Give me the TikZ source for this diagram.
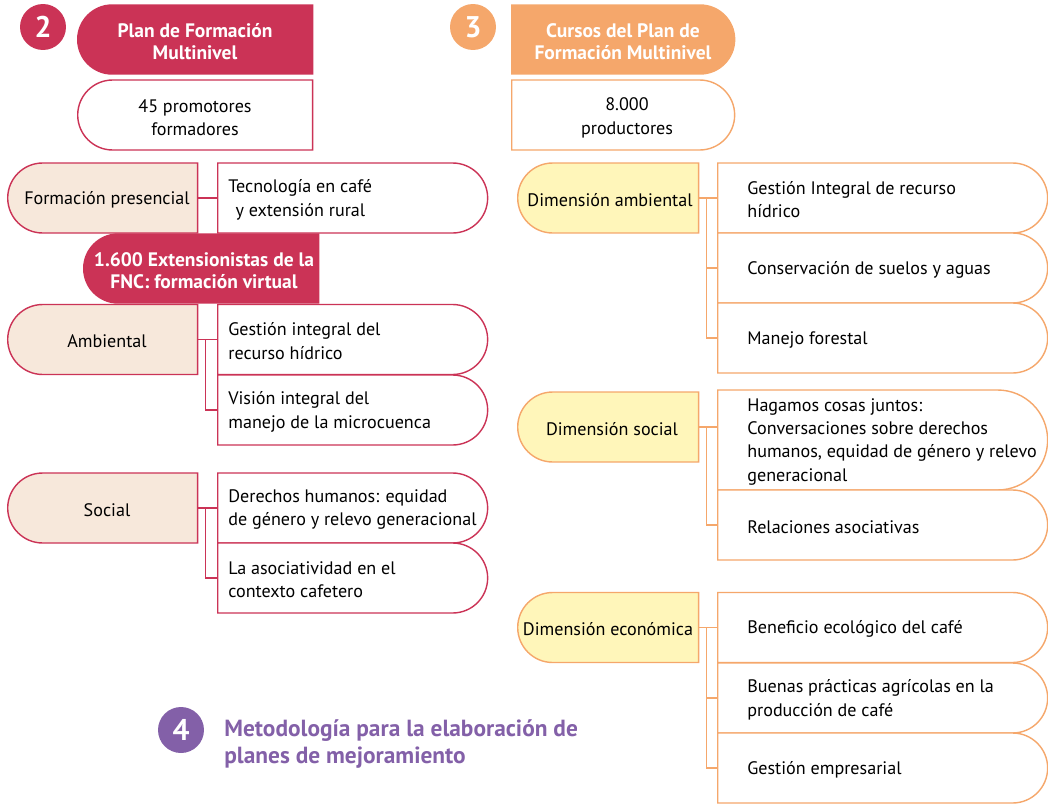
\documentclass[tikz,border=0pt]{standalone}
\usepackage{fontspec}
\setmainfont{PT Sans}
\usetikzlibrary{shapes.misc}

\definecolor{carmin}{HTML}{CB3356}
\definecolor{naranja}{HTML}{F5A76B}
\definecolor{beige}{HTML}{F7E8DB}
\definecolor{amarillo}{HTML}{FFF6BA}
\definecolor{morado}{HTML}{8360A8}

\tikzset{
  caja/.style={rounded rectangle, draw, line width=0.8pt, minimum height=1.4cm, inner sep=0pt, anchor=west},
  cajaizq/.style={caja, rounded rectangle east arc=none},
  cajader/.style={caja, rounded rectangle west arc=none},
  texto/.style={anchor=west, align=left, inner sep=0pt, yshift=-0.035cm, font=\fontsize{10.3}{13.3}\selectfont},
  titulo/.style={align=center, inner sep=0pt, yshift=-0.03cm, text=white, font=\fontsize{11.1}{12.4}\selectfont\bfseries},
  numero/.style={circle, minimum size=0.92cm, inner sep=0pt, text=white, font=\fontsize{17}{17}\selectfont\bfseries},
  linea/.style={line width=0.8pt},
}

\begin{document}
\begin{tikzpicture}[x=0.02cm, y=-0.02cm]
    \useasboundingbox (0,0) rectangle (1048,805);

    % Columna 2
    \node[numero, fill=carmin] (n2) at (43,27) {2};
    \node[cajaizq, draw=carmin, fill=carmin, minimum width=4.7cm, minimum height=1.38cm] (cab2) at (77,39.5) {};
    \node[titulo] (cab2-t) at (195,40) {Plan de Formación\\Multinivel};
    \node[cajaizq, draw=carmin, fill=white, minimum width=4.7cm] (prom) at (77,115) {};
    \node[texto, anchor=center, align=center] (prom-t) at (195,116) {45 promotores\\formadores};

    % Formacion presencial
    \node[cajaizq, draw=carmin, fill=beige, minimum width=3.8cm] (pres) at (7,198) {};
    \node[texto, anchor=center] (pres-t) at (107,198) {Formación presencial};
    \node[cajader, draw=carmin, fill=white, minimum width=5.4cm] (tec) at (217,198) {};
    \node[texto] (tec-t) at (228,198) {Tecnología en café\\\hspace*{0.4em}y extensión rural};
    \draw[linea, carmin] (pres.east) -- (tec.west);

    % Formacion virtual
    \node[cajaizq, draw=carmin, fill=carmin, minimum width=4.7cm, minimum height=1.38cm] (virt) at (83,268.5) {};
    \node[titulo] (virt-t) at (204,269) {1.600 Extensionistas de la\\FNC: formación virtual};

    \node[cajaizq, draw=carmin, fill=beige, minimum width=3.8cm] (amb) at (7,339.5) {};
    \node[texto, anchor=center] (amb-t) at (107,339.5) {Ambiental};
    \foreach \n/\y/\val in {
        amb1/339.5/Gestión integral del\\recurso hídrico,
        amb2/410/Visión integral del\\manejo de la microcuenca
        } {
        \node[cajader, draw=carmin, fill=white, minimum width=5.4cm] (\n) at (217,\y) {};
        \node[texto] (\n-t) at (228,\y) {\val};
    }
    \draw[linea, carmin] (amb.east) -- (amb1.west);
    \draw[linea, carmin] ([xshift=0.14cm]amb.east) |- (amb2.west);

    \node[cajaizq, draw=carmin, fill=beige, minimum width=3.8cm] (soc) at (7,508) {};
    \node[texto, anchor=center] (soc-t) at (107,508) {Social};
    \foreach \n/\y/\val in {
        soc1/508/Derechos humanos: equidad\\de género y relevo generacional,
        soc2/578/La asociatividad en el\\contexto cafetero
        } {
        \node[cajader, draw=carmin, fill=white, minimum width=5.4cm] (\n) at (217,\y) {};
        \node[texto] (\n-t) at (228,\y) {\val};
    }
    \draw[linea, carmin] (soc.east) -- (soc1.west);
    \draw[linea, carmin] ([xshift=0.14cm]soc.east) |- (soc2.west);

    % Columna 3
    \node[numero, fill=naranja] (n3) at (473,27) {3};
    \node[cajader, draw=naranja, fill=naranja, minimum width=4.46cm, minimum height=1.38cm] (cab3) at (511,39.5) {};
    \node[titulo] (cab3-t) at (623,40) {Cursos del Plan de\\Formación Multinivel};
    \node[cajader, draw=naranja, fill=white, minimum width=4.46cm] (prod) at (511,115) {};
    \node[texto, anchor=center, align=center] (prod-t) at (627,116) {8.000\\productores};

    % Dimension ambiental
    \node[cajaizq, draw=naranja, fill=amarillo, minimum width=3.62cm] (dam) at (517,198) {};
    \node[texto, anchor=center] (dam-t) at (610,198) {Dimensión ambiental};
    \foreach \n/\y/\val in {
        dam1/198/Gestión Integral de recurso\\hídrico,
        dam2/268/Conservación de suelos y aguas,
        dam3/338/Manejo forestal
        } {
        \node[cajader, draw=naranja, fill=white, minimum width=6.6cm] (\n) at (717,\y) {};
        \node[texto] (\n-t) at (747,\y) {\val};
    }
    \draw[linea, naranja] (dam.east) -- (dam1.west);
    \draw[linea, naranja] ([xshift=0.14cm]dam.east) |- (dam2.west);
    \draw[linea, naranja] ([xshift=0.14cm]dam.east) |- (dam3.west);

    % Dimension social
    \node[cajaizq, draw=naranja, fill=amarillo, minimum width=3.62cm] (dso) at (517,427) {};
    \node[texto, anchor=center] (dso-t) at (612,427) {Dimensión social};
    \node[cajader, draw=naranja, fill=white, minimum width=6.6cm, minimum height=2cm] (dso1) at (717,440) {};
    \node[texto] (dso1-t) at (747,440) {Hagamos cosas juntos:\\Conversaciones sobre derechos\\humanos, equidad de género y relevo\\generacional};
    \node[cajader, draw=naranja, fill=white, minimum width=6.6cm] (dso2) at (717,525) {};
    \node[texto] (dso2-t) at (747,525) {Relaciones asociativas};
    \draw[linea, naranja] (dso.east) -- (dso.east -| dso1.west);
    \draw[linea, naranja] ([xshift=0.14cm]dso.east) |- (dso2.west);

    % Dimension economica
    \node[cajaizq, draw=naranja, fill=amarillo, minimum width=3.62cm] (dec) at (517,627.5) {};
    \node[texto, anchor=center] (dec-t) at (608,627.5) {Dimensión económica};
    \foreach \n/\y/\val in {
        dec1/627.5/Beneficio ecológico del café,
        dec2/698/Buenas prácticas agrícolas en la\\producción de café,
        dec3/768/Gestión empresarial
        } {
        \node[cajader, draw=naranja, fill=white, minimum width=6.6cm] (\n) at (717,\y) {};
        \node[texto] (\n-t) at (747,\y) {\val};
    }
    \draw[linea, naranja] (dec.east) -- (dec1.west);
    \draw[linea, naranja] ([xshift=0.14cm]dec.east) |- (dec2.west);
    \draw[linea, naranja] ([xshift=0.14cm]dec.east) |- (dec3.west);

    % Paso 4
    \node[numero, fill=morado] (n4) at (181,730) {4};
    \node[anchor=west, align=left, inner sep=0pt, text=morado, font=\fontsize{13.3}{15.4}\selectfont\bfseries] (met) at (224,744) {Metodología para la elaboración de\\planes de mejoramiento};
\end{tikzpicture}
\end{document}
